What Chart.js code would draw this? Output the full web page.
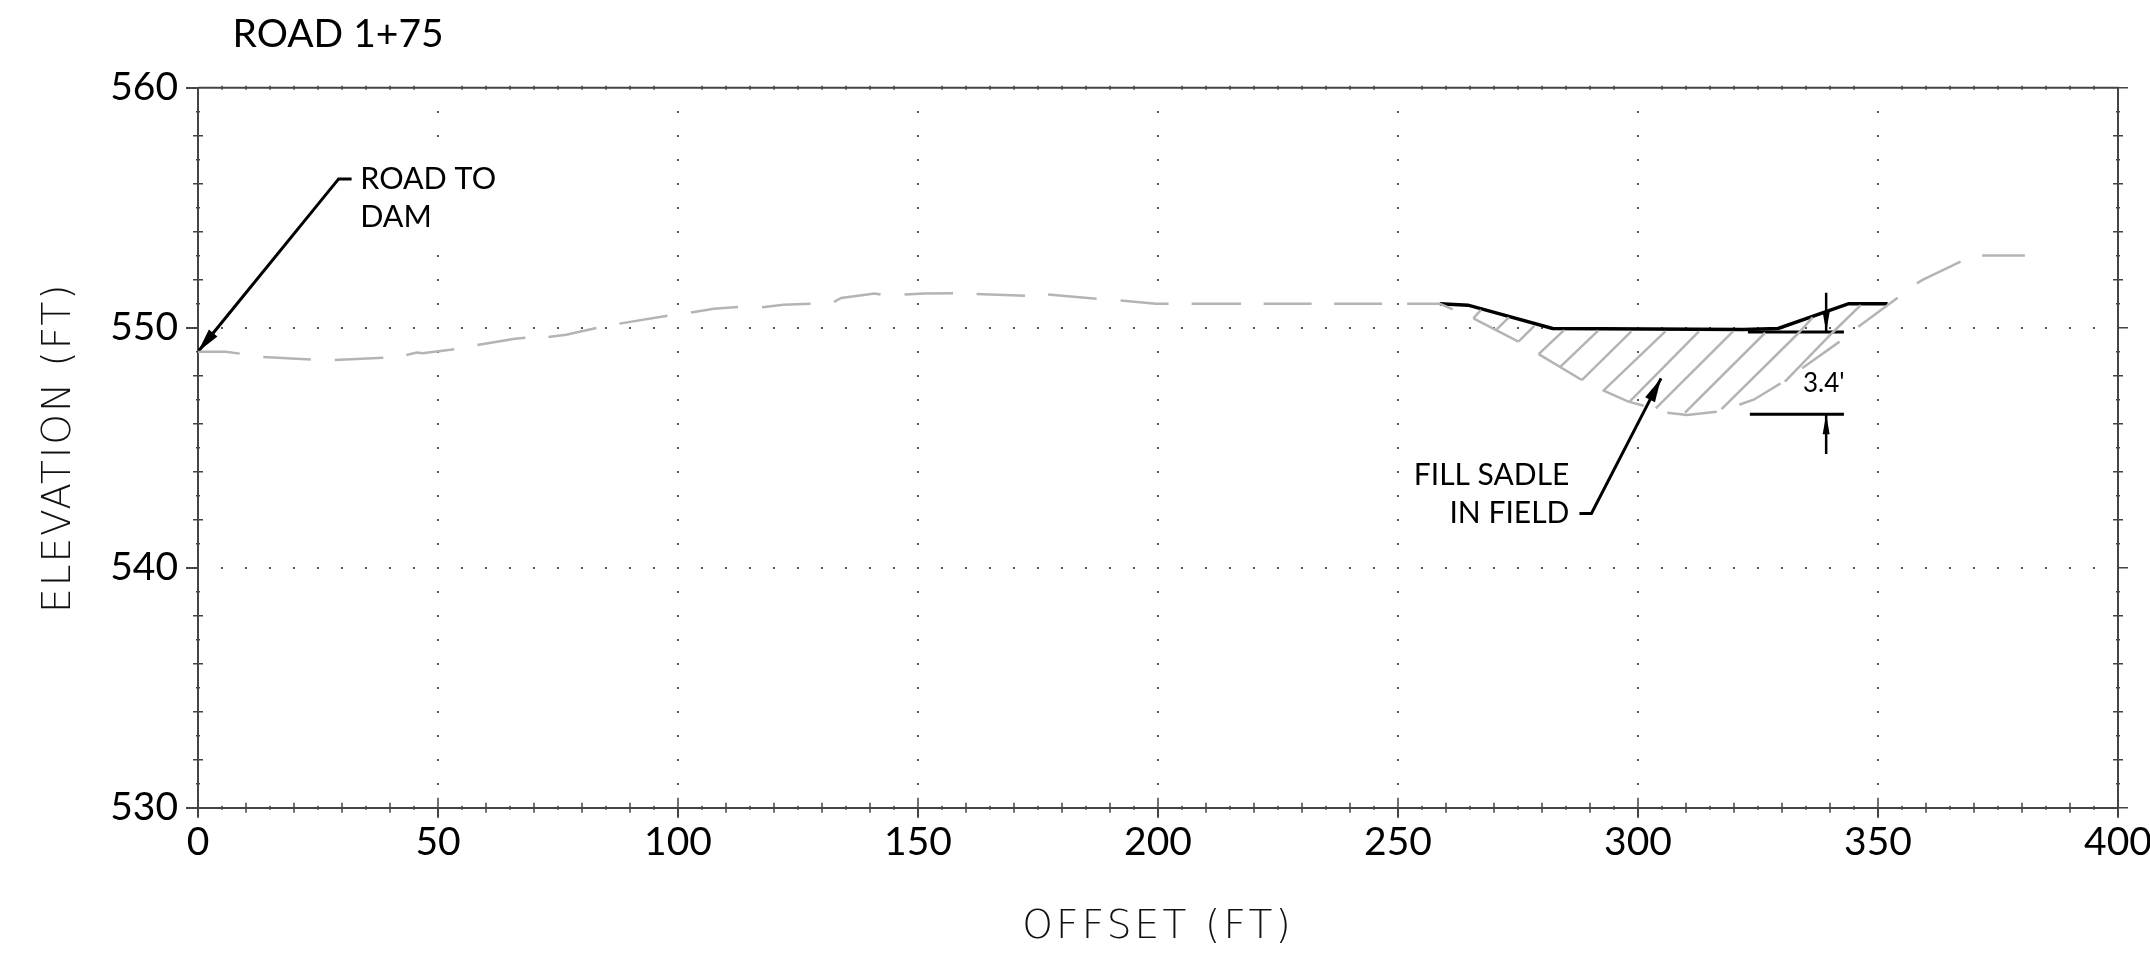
<!DOCTYPE html>
<html><head><meta charset="utf-8">
<style>html,body{margin:0;padding:0;background:#fff}#w{position:relative;width:2150px;height:959px;overflow:hidden}canvas{display:block}</style>
<script src="https://cdn.jsdelivr.net/npm/chart.js@4"></script></head>
<body><div id="w"><canvas id="c" width="2150" height="959"></canvas></div>
<script>
const xTickLabels=[0,50,100,150,200,250,300,350,400];
const yTickLabels=[530,540,550,560];
// existing ground, dashed as drawn; null = pen-up gap
const groundX=[0,5.75,8.7,null,13.6,23.5,null,28.5,38.6,null,43.4,45.6,46.8,53.4,null,58.2,66,68.2,null,73,76.7,83,null,87.8,97.8,null,102.7,107.5,112.5,null,117.5,122,127.6,null,132.5,134,141,142.2,null,147.2,151.3,157.3,null,162.2,172.3,null,177.1,187.2,null,192.2,199.6,202.2,null,207,217.3,null,222,232,null,236.7,246.7,null,251.9,258.7,261.4,null,265.7,275.1,null,279.3,288.3,null,292.6,298,301.2,null,306.1,310.2,316.4,null,321.1,324.2,329.7,null,334.2,342,null,345.9,354.1,null,358.1,359.5,367.2,null,371.7,380.6];
const groundY=[549,549,548.92,null,548.78,548.68,null,548.65,548.75,null,548.86,548.97,548.94,549.1,null,549.28,549.54,549.58,null,549.61,549.71,549.99,null,550.17,550.5,null,550.63,550.79,550.86,null,550.85,550.96,551,null,551.08,551.24,551.42,551.38,null,551.38,551.42,551.44,null,551.4,551.33,null,551.38,551.21,null,551.13,551,551,null,551,551,null,551,551,null,551,551,null,551,551,550.76,null,550.39,549.42,null,548.9,547.82,null,547.4,546.92,546.75,null,546.46,546.36,546.5,null,546.79,547.01,547.68,null,548.31,549.42,null,550.04,551.25,null,551.85,552.01,552.75,null,553.01,553.01];
// fill hatching
const hatchX=[267.3,265.7,null,273.1,270.6,null,278.4,275.1,null,284.6,279.3,null,291.7,283.7,null,298.6,288.3,null,305.7,292.9,null,312.7,298.3,null,319.8,303.7,null,326.5,309.8,null,333.5,317.4,null,336.4,333.5,null,346.4,340.5,330.6];
const hatchY=[550.74,550.39,null,550.43,549.94,null,550.08,549.42,null,549.9,548.9,null,549.88,548.35,null,549.85,547.82,null,549.85,547.4,null,549.85,546.93,null,549.85,546.64,null,549.79,546.46,null,549.79,546.61,null,550.43,549.79,null,550.94,549.79,547.75];
// proposed road
const roadX=[258.7,264.6,282.2,322,329.2,343.9,352];
const roadY=[551,550.94,549.97,549.93,549.97,551,551];
// dimension lines and leaders
const dimX=[322.9,342.9,null,323.3,342.9];
const dimY=[549.82,549.82,null,546.39,546.39];
const leaderRoadX=[32,29.3,0];
const leaderRoadY=[556.2,556.2,549];
const leaderFillX=[287.8,290.3,304.8];
const leaderFillY=[542.26,542.26,547.89];
const dimArrowTopX=[339.2,339.2];
const dimArrowTopY=[551.46,549.82];
const dimArrowBottomX=[339.2,339.2];
const dimArrowBottomY=[544.74,546.39];
const annotations=[
 {t:'ROAD 1+75',x:7.2,y:562.22,a:'left',s:39},
 {t:'ROAD TO',x:33.8,y:556.2,a:'left',s:30.5},
 {t:'DAM',x:33.8,y:554.6,a:'left',s:30.5},
 {t:'FILL SADLE',x:285.7,y:543.83,a:'right',s:30},
 {t:'IN FIELD',x:285.7,y:542.26,a:'right',s:30},
 {t:"3.4'",x:338.7,y:547.68,a:'center',s:26}
];
const pts=(xs,ys)=>xs.map((x,i)=>({x:x===null?NaN:x,y:ys[i]===null?NaN:ys[i]}));
const ln=(xs,ys,color,w)=>({data:pts(xs,ys),borderColor:color,borderWidth:w,pointRadius:0,showLine:true,spanGaps:false,fill:false,tension:0,borderCapStyle:'butt',borderJoinStyle:'miter'});
const GRAY='#b4b4b4',BLACK='#000',AXIS='#444';
const FONT='Lato, "Open Sans", sans-serif';
const TITLE='"DejaVu Sans ExtraLight","DejaVu Sans"';
const extras={id:'extras',
 beforeDraw(chart){
  const ctx=chart.ctx;
  for(const id of ['x','y']){const s=chart.scales[id];
   if(!s._sp){s._sp=true;const o=s.drawTitle;s.drawTitle=function(){ctx.save();ctx.letterSpacing=id==='x'?'3.2px':'2px';o.call(this);ctx.restore();};}}
 },
 beforeDatasetsDraw(chart){
  const {ctx,scales:{x,y}}=chart;
  const L=x.getPixelForValue(0),R=x.getPixelForValue(400),T=y.getPixelForValue(560),B=y.getPixelForValue(530);
  ctx.save();
  // dotted grid
  ctx.fillStyle='#555';
  for(let v=50;v<400;v+=50)for(let e=531;e<560;e++){
    if(v===50&&e>=554&&e<=557)continue;
    ctx.fillRect(Math.round(x.getPixelForValue(v))-1,Math.round(y.getPixelForValue(e))-1,2,2);}
  for(const e of [540,550])for(let v=5;v<400;v+=5)
    ctx.fillRect(Math.round(x.getPixelForValue(v))-1,Math.round(y.getPixelForValue(e))-1,2,2);
  // frame and minor ticks
  ctx.strokeStyle=AXIS;ctx.lineWidth=2;ctx.beginPath();
  ctx.moveTo(L,T);ctx.lineTo(R,T);ctx.lineTo(R,B);ctx.stroke();
  ctx.lineWidth=1.5;ctx.beginPath();
  const seg=(a,b,c,d)=>{ctx.moveTo(a,b);ctx.lineTo(c,d);};
  for(let e=530;e<=560;e++){const p=y.getPixelForValue(e);
    const l=e%10===0?0:(e%2===0?5:2);
    if(l){seg(L-l,p,L+l,p);seg(R-l,p,R+l,p);}
    if(e%10===0)seg(R,p,R+10,p);}
  for(let v=0;v<=400;v+=5){const p=x.getPixelForValue(v);
    const l=v%10===0?5:2;
    if(v%50===0){seg(p,B-10,p,B);}
    else seg(p,B-l,p,B+l);
    if(v%50!==0)seg(p,T-2,p,T+2);}
  ctx.stroke();ctx.restore();
 },
 afterDatasetsDraw(chart){
  const {ctx,scales:{x,y}}=chart;
  ctx.save();ctx.fillStyle='#000';
  const head=(xs,ys,len,hw)=>{const n=xs.length-1;
    const tx=x.getPixelForValue(xs[n]),ty=y.getPixelForValue(ys[n]),fx=x.getPixelForValue(xs[n-1]),fy=y.getPixelForValue(ys[n-1]);
    const d=Math.hypot(tx-fx,ty-fy),ux=(tx-fx)/d,uy=(ty-fy)/d;
    ctx.beginPath();ctx.moveTo(tx,ty);ctx.lineTo(tx-ux*len-uy*hw,ty-uy*len+ux*hw);ctx.lineTo(tx-ux*len+uy*hw,ty-uy*len-ux*hw);ctx.closePath();ctx.fill();};
  head(leaderRoadX,leaderRoadY,24,5.5);
  head(leaderFillX,leaderFillY,24,5.5);
  head(dimArrowTopX,dimArrowTopY,20,3.5);
  head(dimArrowBottomX,dimArrowBottomY,20,3.5);
  ctx.textBaseline='middle';
  for(const a of annotations){ctx.font=a.s+'px '+FONT;ctx.textAlign=a.a;
    ctx.fillText(a.t,x.getPixelForValue(a.x),y.getPixelForValue(a.y));}
  ctx.restore();
 }};
new Chart(document.getElementById('c'),{type:'scatter',
 data:{datasets:[
  ln(groundX,groundY,GRAY,2.5),
  ln(hatchX,hatchY,GRAY,2.5),
  ln(roadX,roadY,BLACK,3.5),
  ln(dimX,dimY,BLACK,3),
  ln(leaderRoadX,leaderRoadY,BLACK,3),
  ln(leaderFillX,leaderFillY,BLACK,3),
  ln(dimArrowTopX,dimArrowTopY,BLACK,2.5),
  ln(dimArrowBottomX,dimArrowBottomY,BLACK,2.5)
 ]},
 plugins:[extras],
 options:{responsive:false,animation:false,events:[],
  layout:{padding:{top:87.7,right:32,bottom:0,left:0}},
  plugins:{legend:{display:false},tooltip:{enabled:false},title:{display:false}},
  scales:{
   x:{type:'linear',min:0,max:400,
    afterBuildTicks(s){s.ticks=xTickLabels.map(v=>({value:v}));},
    afterFit(s){s.height=959-807.7;s.paddingRight=0;s.paddingLeft=0;},
    grid:{drawOnChartArea:false,drawTicks:true,tickLength:10,color:AXIS,lineWidth:2},
    border:{display:true,color:AXIS,width:2},
    ticks:{color:'#000',padding:1,autoSkip:false,maxRotation:0,font:{family:FONT,size:39},callback:v=>v},
    title:{display:true,text:'OFFSET (FT)',color:'#111',font:{family:TITLE,weight:'200',size:39},padding:{top:24,bottom:8}}},
   y:{type:'linear',min:530,max:560,
    afterBuildTicks(s){s.ticks=yTickLabels.map(v=>({value:v}));},
    afterFit(s){s.width=198;s.paddingTop=0;s.paddingBottom=0;},
    grid:{drawOnChartArea:false,drawTicks:true,tickLength:12,color:AXIS,lineWidth:2},
    border:{display:true,color:AXIS,width:2},
    ticks:{color:'#000',padding:8,autoSkip:false,font:{family:FONT,size:39},callback:v=>v},
    title:{display:true,text:'ELEVATION (FT)',color:'#111',font:{family:TITLE,weight:'200',size:39},padding:{top:36,bottom:0}}}
  }}});
</script></body></html>
